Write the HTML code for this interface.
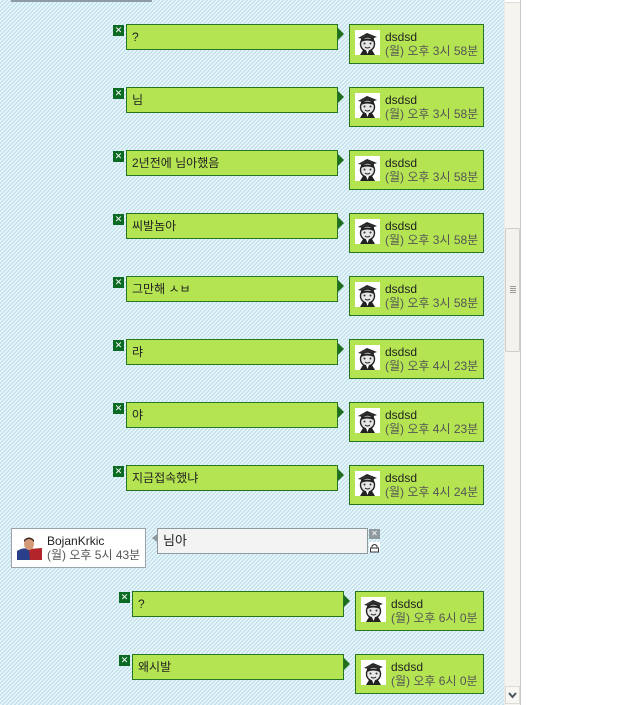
<!DOCTYPE html>
<html><head><meta charset="utf-8">
<style>
*{margin:0;padding:0;box-sizing:border-box}
html,body{width:640px;height:705px;background:#fff;overflow:hidden}
body{position:relative;font-family:"Liberation Sans","Noto Sans CJK KR",sans-serif;font-size:12px;color:#222}
#bg{position:absolute;left:0;top:0;width:504px;height:705px}
#topline{position:absolute;left:11px;top:0;width:141px;height:2px;background:#8d9ca2}
.x{position:absolute;width:11px;height:11px;background:#0b6b23;color:#fff;font-size:9px;line-height:11px;text-align:center}
.bub{position:absolute;width:212px;height:26px;background:#b4e452;border:1px solid #257522;padding-left:5px;line-height:24px;font-size:12px;color:#222}
.arr{position:absolute;width:0;height:0;border-top:6px solid transparent;border-bottom:6px solid transparent;border-left:6px solid #1d6e1d}
.rb{position:absolute;height:40px;background:#b4e452;border:1px solid #257522}
.rb .av{position:absolute;left:5px;top:5px;width:25px;height:25px;background:#fff}
.rb .t1{position:absolute;left:35px;top:5px;line-height:14px;color:#222;font-size:12px}
.rb .t2{position:absolute;left:35px;top:19px;line-height:14px;color:#555;font-size:12px;white-space:nowrap}
#sb{position:absolute;left:504px;top:0;width:17px;height:705px;background:#f5f4ef;border-right:1px solid #c9c9c4;border-left:1px solid #ecebe5}
#thumb{position:absolute;left:505px;top:228px;width:15px;height:124px;background:#f3f2ec;border:1px solid #cfcec8;border-radius:2px}
.grip{position:absolute;left:510px;width:6px;height:1px;background:#999}
#down{position:absolute;left:505px;top:686px;width:15px;height:18px;background:#f7f6f2;border:1px solid #dcdbd5}
</style></head><body>
<svg id="bg" width="504" height="705" shape-rendering="crispEdges">
<defs>
<pattern id="hatch" width="4" height="4" patternUnits="userSpaceOnUse">
<rect width="4" height="4" fill="#e8f5f9"/>
<rect x="2" y="0" width="2" height="1" fill="#c4e3ee"/>
<rect x="1" y="1" width="2" height="1" fill="#c4e3ee"/>
<rect x="0" y="2" width="2" height="1" fill="#c4e3ee"/>
<rect x="3" y="3" width="1" height="1" fill="#c4e3ee"/>
<rect x="0" y="3" width="1" height="1" fill="#c4e3ee"/>
</pattern>
</defs>
<rect width="504" height="705" fill="url(#hatch)"/>
</svg>
<div id="topline"></div>

<svg width="0" height="0" style="position:absolute">
<defs>
<symbol id="face" viewBox="0 0 25 25">
<rect width="25" height="25" fill="#fff"/>
<path d="M3 8 L12 3 L22 7 L13 10 Z" fill="#222"/>
<path d="M6 8 Q5 5 12 5 Q19 5 19 9 L19 12 L6 12 Z" fill="#333"/>
<ellipse cx="12.5" cy="14" rx="7" ry="7" fill="#e6e6e6" stroke="#222" stroke-width="1.4"/>
<path d="M6 10 Q12 7 19 10 L19 12 Q12 9 6 12Z" fill="#222"/>
<circle cx="9.5" cy="13.5" r="1" fill="#333"/><circle cx="15.5" cy="13.5" r="1" fill="#333"/>
<path d="M10 17 Q12.5 19 15 17" stroke="#222" fill="none"/>
<path d="M5 25 L8 20 L17 20 L20 25Z" fill="#222"/>
<path d="M11 20 L12.5 24 L14 20Z" fill="#fff"/>
</symbol>
</defs>
</svg>

<!-- rows -->
<div class="x" style="left:113px;top:25px">✕</div>
<div class="bub" style="left:126px;top:24px">?</div>
<div class="arr" style="left:338px;top:28px"></div>
<div class="rb" style="left:349px;top:24px;width:135px"><svg class="av" viewBox="0 0 25 25"><use href="#face"/></svg><div class="t1">dsdsd</div><div class="t2">(월) 오후 3시 58분</div></div>

<div class="x" style="left:113px;top:88px">✕</div>
<div class="bub" style="left:126px;top:87px">님</div>
<div class="arr" style="left:338px;top:91px"></div>
<div class="rb" style="left:349px;top:87px;width:135px"><svg class="av" viewBox="0 0 25 25"><use href="#face"/></svg><div class="t1">dsdsd</div><div class="t2">(월) 오후 3시 58분</div></div>

<div class="x" style="left:113px;top:151px">✕</div>
<div class="bub" style="left:126px;top:150px">2년전에 님아했음</div>
<div class="arr" style="left:338px;top:154px"></div>
<div class="rb" style="left:349px;top:150px;width:135px"><svg class="av" viewBox="0 0 25 25"><use href="#face"/></svg><div class="t1">dsdsd</div><div class="t2">(월) 오후 3시 58분</div></div>

<div class="x" style="left:113px;top:214px">✕</div>
<div class="bub" style="left:126px;top:213px">씨발놈아</div>
<div class="arr" style="left:338px;top:217px"></div>
<div class="rb" style="left:349px;top:213px;width:135px"><svg class="av" viewBox="0 0 25 25"><use href="#face"/></svg><div class="t1">dsdsd</div><div class="t2">(월) 오후 3시 58분</div></div>

<div class="x" style="left:113px;top:277px">✕</div>
<div class="bub" style="left:126px;top:276px">그만해 ㅅㅂ</div>
<div class="arr" style="left:338px;top:280px"></div>
<div class="rb" style="left:349px;top:276px;width:135px"><svg class="av" viewBox="0 0 25 25"><use href="#face"/></svg><div class="t1">dsdsd</div><div class="t2">(월) 오후 3시 58분</div></div>

<div class="x" style="left:113px;top:340px">✕</div>
<div class="bub" style="left:126px;top:339px">랴</div>
<div class="arr" style="left:338px;top:343px"></div>
<div class="rb" style="left:349px;top:339px;width:135px"><svg class="av" viewBox="0 0 25 25"><use href="#face"/></svg><div class="t1">dsdsd</div><div class="t2">(월) 오후 4시 23분</div></div>

<div class="x" style="left:113px;top:403px">✕</div>
<div class="bub" style="left:126px;top:402px">야</div>
<div class="arr" style="left:338px;top:406px"></div>
<div class="rb" style="left:349px;top:402px;width:135px"><svg class="av" viewBox="0 0 25 25"><use href="#face"/></svg><div class="t1">dsdsd</div><div class="t2">(월) 오후 4시 23분</div></div>

<div class="x" style="left:113px;top:466px">✕</div>
<div class="bub" style="left:126px;top:465px">지금접속했냐</div>
<div class="arr" style="left:338px;top:469px"></div>
<div class="rb" style="left:349px;top:465px;width:135px"><svg class="av" viewBox="0 0 25 25"><use href="#face"/></svg><div class="t1">dsdsd</div><div class="t2">(월) 오후 4시 24분</div></div>

<!-- Bojan -->
<div style="position:absolute;left:11px;top:528px;width:135px;height:40px;background:#fff;border:1px solid #9aa4a8">
  <svg style="position:absolute;left:5px;top:6px" width="25" height="25" viewBox="0 0 25 25">
    <rect width="25" height="25" fill="#fff"/>
    <path d="M0 16 Q6 12 12 14 L25 14 L25 25 L0 25Z" fill="#2a3f8a"/>
    <path d="M12 14 L25 13 L25 25 L13 25Z" fill="#b3232a"/>
    <ellipse cx="12" cy="9" rx="5" ry="6" fill="#d49a78"/>
    <path d="M7 7 Q12 1 17 7 L17 5 Q12 0 7 5Z" fill="#3a2a20"/>
  </svg>
  <div style="position:absolute;left:35px;top:5px;line-height:14px">BojanKrkic</div>
  <div style="position:absolute;left:35px;top:19px;line-height:14px;color:#555;white-space:nowrap">(월) 오후 5시 43분</div>
</div>
<div style="position:absolute;left:152px;top:534px;width:0;height:0;border-top:4px solid transparent;border-bottom:4px solid transparent;border-right:5px solid #8e999d"></div>
<div style="position:absolute;left:157px;top:528px;width:211px;height:26px;background:#f3f3f3;border:1px solid #8e999d;padding-left:5px;line-height:24px;font-size:13px;color:#222">님아</div>
<div style="position:absolute;left:369px;top:529px;width:11px;height:10px;background:#8f9a9e;color:#fff;font-size:8px;line-height:10px;text-align:center">✕</div>
<div style="position:absolute;left:369px;top:542px;width:11px;height:10px;background:#fff">
  <svg width="11" height="10" viewBox="0 0 11 10"><path d="M3 5 V3 Q5.5 0 8 3 V5" stroke="#333" fill="none"/><rect x="1.5" y="5" width="8" height="4" fill="none" stroke="#333"/></svg>
</div>

<!-- last rows -->
<div class="x" style="left:119px;top:592px">✕</div>
<div class="bub" style="left:132px;top:591px">?</div>
<div class="arr" style="left:344px;top:595px"></div>
<div class="rb" style="left:355px;top:591px;width:129px"><svg class="av" viewBox="0 0 25 25"><use href="#face"/></svg><div class="t1">dsdsd</div><div class="t2">(월) 오후 6시 0분</div></div>

<div class="x" style="left:119px;top:655px">✕</div>
<div class="bub" style="left:132px;top:654px">왜시발</div>
<div class="arr" style="left:344px;top:658px"></div>
<div class="rb" style="left:355px;top:654px;width:129px"><svg class="av" viewBox="0 0 25 25"><use href="#face"/></svg><div class="t1">dsdsd</div><div class="t2">(월) 오후 6시 0분</div></div>

<!-- scrollbar -->
<div id="sb"></div>
<div style="position:absolute;left:505px;top:0;width:15px;height:3px;background:#fff;border-bottom:1px solid #ddd"></div>
<div id="thumb"></div>
<div class="grip" style="top:286px"></div>
<div class="grip" style="top:288px"></div>
<div class="grip" style="top:290px"></div>
<div class="grip" style="top:292px"></div>
<div id="down"><svg width="13" height="16" viewBox="0 0 13 16"><path d="M3 6 L6.5 10 L10 6" stroke="#4a5560" stroke-width="2" fill="none"/></svg></div>
</body></html>
